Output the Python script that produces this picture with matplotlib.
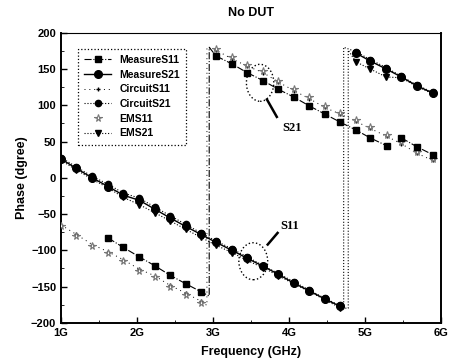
import matplotlib
matplotlib.use("Agg")
import matplotlib.pyplot as plt
from matplotlib.patches import Ellipse
import numpy as np

plt.rcParams['font.family'] = ['Liberation Sans', 'DejaVu Sans']
plt.rcParams['font.weight'] = 'bold'

nan = np.nan

# S11 group (the lower-left line that wraps at ~2.95G)
f_meas_s11 = [1.62, 1.82, 2.03, 2.23, 2.43, 2.64, 2.84, 2.95, 2.95, 3.04, 3.25, 3.45, 3.66, 3.86,
              4.07, 4.27, 4.47, 4.67, 4.88, 5.07, 5.29, 5.38, 5.48, 5.68, 5.89]
p_meas_s11 = [-83, -96, -109, -121, -134, -146, -157, -163, 180, 168, 157, 145, 134, 122,
              111, 99, 88, 77, 66, 55, 44, nan, 55, 43, 32]

f_em_s11 = [1.0, 1.2, 1.41, 1.62, 1.82, 2.03, 2.23, 2.43, 2.64, 2.84, 2.92, 2.92, 3.04, 3.25,
            3.45, 3.66, 3.86, 4.07, 4.27, 4.47, 4.67, 4.88, 5.07, 5.29, 5.48, 5.68, 5.89]
p_em_s11 = [-67, -80, -94, -104, -115, -128, -137, -150, -161, -172, -178, 180, 178, 166,
            156, 147, 134, 122, 111, 99, 90, 80, 70, 59, 49, 36, 26]
p_cir_s11 = [-65, -78, -92, -102, -113, -126, -135, -148, -159, -170, -176, 180, 176, 164,
             154, 145, 132, 120, 109, 97, 88, 78, 68, 57, 47, 34, 24]

# S21 group (the long line that wraps at ~4.75G)
f_meas_s21 = [1.0, 1.2, 1.41, 1.62, 1.82, 2.03, 2.23, 2.43, 2.64, 2.84, 3.04, 3.25, 3.45, 3.66,
              3.86, 4.06, 4.27, 4.47, 4.67, 4.72, 4.72, 4.88, 5.07, 5.28, 5.48, 5.68, 5.89]
p_meas_s21 = [26, 13, 0, -12, -24, -31, -43, -55, -67, -78, -89, -100, -111, -122,
              -133, -145, -156, -167, -177, nan, nan, 172, 161, 150, 139, 127, 117]
p_cir_s21 = [28, 15, 2, -9, -21, -28, -40, -52, -64, -76, -87, -98, -109, -121,
             -132, -143, -155, -166, -176, -180, 180, 174, 163, 152, 140, 128, 118]
f_em_s21 = [1.0, 1.2, 1.41, 1.62, 1.82, 2.03, 2.23, 2.43, 2.64, 2.84, 3.04, 3.25, 3.45, 3.66,
            3.86, 4.06, 4.27, 4.47, 4.67, 4.78, 4.78, 4.88, 5.07, 5.28, 5.48, 5.68, 5.89]
p_em_s21 = [24, 11, -2, -14, -27, -37, -48, -59, -71, -82, -93, -103, -114, -124,
            -135, -146, -157, -168, -179, -180, 176, 160, 150, 139, 138, 126, 116]

x_ticks = [1, 2, 3, 4, 5, 6]
x_labels = ['1G', '2G', '3G', '4G', '5G', '6G']


def marks(f, p):
    # markers only on real sample points, not on the phase-wrap points
    out = []
    for i in range(len(f)):
        wrap = (i > 0 and f[i] == f[i-1]) or (i < len(f)-1 and f[i] == f[i+1])
        out.append(not wrap and not np.isnan(p[i]))
    return out


fig = plt.figure(figsize=(4.49, 3.64), dpi=100)
ax = fig.add_axes([0.136, 0.113, 0.846, 0.797])

ax.plot(f_meas_s11, p_meas_s11, color='black', lw=0.8, ls='-.', marker='s', ms=4.5,
        markevery=marks(f_meas_s11, p_meas_s11), label='MeasureS11', zorder=4)
ax.plot(f_meas_s21, p_meas_s21, color='black', lw=1.0, ls='-', marker='o', ms=5.5,
        markevery=marks(f_meas_s21, p_meas_s21), label='MeasureS21', zorder=4)
ax.plot(f_em_s11, p_cir_s11, color='black', lw=0.7, ls=(0, (1, 4)), marker='+', ms=3,
        markevery=marks(f_em_s11, p_cir_s11), label='CircuitS11', zorder=3)
ax.plot(f_meas_s21, p_cir_s21, color='black', lw=0.8, ls=':', marker='o', ms=4.5,
        markevery=marks(f_meas_s21, p_cir_s21), label='CircuitS21', zorder=3)
ax.plot(f_em_s11, p_em_s11, color='#888888', lw=0, marker='*', ms=5.5, mfc='white',
        mec='#777777', mew=0.8, markevery=marks(f_em_s11, p_em_s11), label='EMS11', zorder=3)
ax.plot(f_em_s21, p_em_s21, color='black', lw=0.8, ls=':', marker='v', ms=5,
        markevery=marks(f_em_s21, p_em_s21), label='EMS21', zorder=3)

# annotations
ax.add_patch(Ellipse((3.62, 131), 0.36, 51, fill=False, ls=':', lw=1.0, ec='black'))
ax.add_patch(Ellipse((3.53, -115), 0.38, 51, fill=False, ls=':', lw=1.0, ec='black'))
ax.plot([3.71, 3.84], [108, 84], color='black', lw=1.8)
ax.plot([3.72, 3.85], [-92, -76], color='black', lw=1.8)
ax.text(4.04, 68, 'S21', fontsize=9, fontweight='bold', family='Liberation Serif',
        ha='center', va='center')
ax.text(4.01, -67, 'S11', fontsize=9, fontweight='bold', family='Liberation Serif',
        ha='center', va='center')

ax.set_xlim(1, 6)
ax.set_ylim(-200, 200)
ax.set_xticks(x_ticks)
ax.set_xticklabels(x_labels)
ax.set_yticks(np.arange(-200, 201, 50))
ax.set_xticks(np.arange(1, 6.01, 0.5), minor=True)
ax.set_yticks(np.arange(-200, 201, 25), minor=True)
ax.tick_params(direction='in', labelsize=8, width=1.0, length=4)
ax.tick_params(which='minor', direction='in', length=2.5)
for s in ax.spines.values():
    s.set_linewidth(1.4)
ax.spines['top'].set_linewidth(0.8)

ax.set_title('No DUT', fontsize=9, fontweight='bold', pad=12)
ax.set_xlabel('Frequency (GHz)', fontsize=9, fontweight='bold', labelpad=6)
ax.set_ylabel('Phase (dgree)', fontsize=9, fontweight='bold', labelpad=2)

leg = ax.legend(loc='upper left', bbox_to_anchor=(0.044, 0.945), fontsize=7.5,
                handlelength=2.6, labelspacing=0.45, borderpad=0.6, fancybox=False,
                framealpha=1, borderaxespad=0)
leg.get_frame().set_edgecolor('black')
leg.get_frame().set_linestyle(':')
leg.get_frame().set_linewidth(0.9)

fig.savefig('out.png', dpi=100)
